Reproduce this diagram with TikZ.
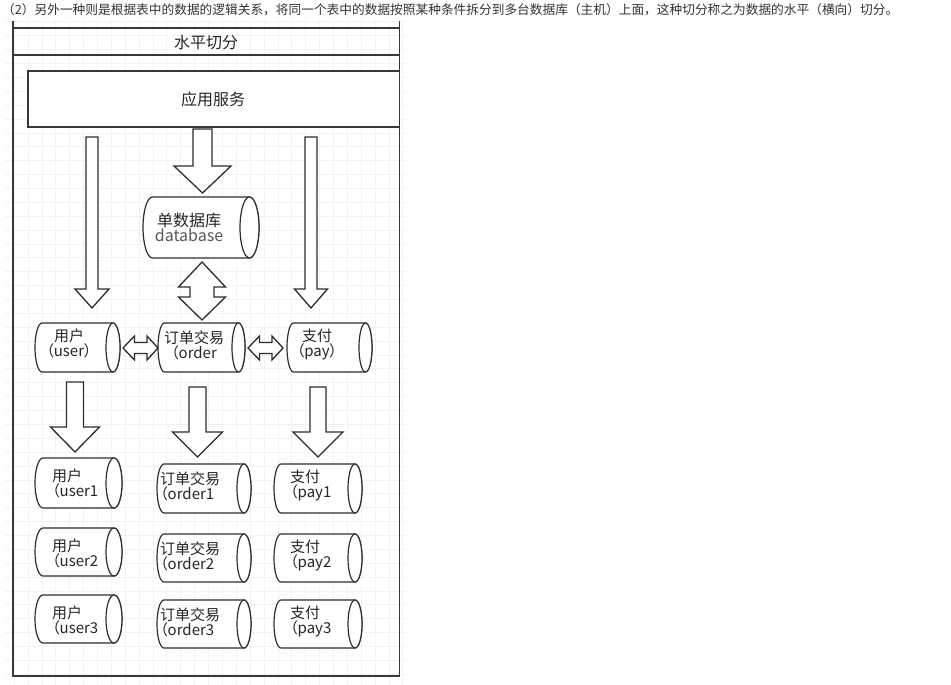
\documentclass[tikz,border=0pt]{standalone}
\usepackage{fontspec}
\setmainfont{Noto Sans CJK SC}
\newfontfamily\dfont[RawFeature=+palt]{Noto Sans CJK SC}
\newcommand\dbcyl[5]{% L T R B r
  \draw[cylline] ({#3-#5},{-#2}) -- ({#1+#5},{-#2})
    arc[start angle=90,end angle=270,x radius=#5,y radius={(#4-#2)/2}]
    -- ({#3-#5},{-#4})
    arc[start angle=-90,end angle=90,x radius=#5,y radius={(#4-#2)/2}] -- cycle;
  \draw[cylline] ({#3-#5},{-(#2+#4)/2}) ellipse[x radius=#5,y radius={(#4-#2)/2}];
}
\newcommand\dnarrow[6]{% cx top headbase tip shafthalf headhalf
  \draw[blockarr] ({#1-#5},{-#2}) -- ({#1+#5},{-#2}) -- ({#1+#5},{-#3}) -- ({#1+#6},{-#3})
    -- ({#1},{-#4}) -- ({#1-#6},{-#3}) -- ({#1-#5},{-#3}) -- cycle;
}
\newcommand\vdarrow[7]{% cx top hb1 hb2 bottom sh hh
  \draw[blockarr] ({#1},{-#2}) -- ({#1+#7},{-#3}) -- ({#1+#6},{-#3}) -- ({#1+#6},{-#4})
    -- ({#1+#7},{-#4}) -- ({#1},{-#5}) -- ({#1-#7},{-#4}) -- ({#1-#6},{-#4})
    -- ({#1-#6},{-#3}) -- ({#1-#7},{-#3}) -- cycle;
}
\newcommand\hdarrow[7]{% cy left hb1 hb2 right sh hh
  \draw[blockarr] ({#2},{-#1}) -- ({#3},{-#1+#7}) -- ({#3},{-#1+#6}) -- ({#4},{-#1+#6})
    -- ({#4},{-#1+#7}) -- ({#5},{-#1}) -- ({#4},{-#1-#7}) -- ({#4},{-#1-#6})
    -- ({#3},{-#1-#6}) -- ({#3},{-#1-#7}) -- cycle;
}
\begin{document}
\begin{tikzpicture}[x=1pt,y=1pt,
  gridline/.style={draw=black!5, line width=0.6pt},
  frameline/.style={draw=black!78, line width=1.4pt},
  blockarr/.style={draw=black!82, fill=white, line width=1.3pt, line join=miter},
  cylline/.style={draw=black!82, fill=white, line width=1.2pt},
  lbl/.style={font=\dfont\fontsize{15}{14}\selectfont, text=black!85, inner sep=0pt, align=center},
  lbll/.style={lbl, align=left, anchor=west},
  ttl/.style={font=\dfont\fontsize{16}{18}\selectfont, text=black!85, inner sep=0pt}]
\useasboundingbox (0,0) rectangle (951,-685);
\fill[white] (0,0) rectangle (951,-685);
% grid
\foreach \k in {0,...,28} {\draw[gridline] ({14.1+\k*13.88},-20) -- ({14.1+\k*13.88},-685);}
\foreach \k in {-9,...,38} {\draw[gridline] (5,{-146.7-\k*13.88}) -- (405,{-146.7-\k*13.88});}
% caption line
\node[anchor=west, inner sep=0pt, font=\fontsize{12.7}{14}\selectfont, text=black!80] (caption) at (2,-10)
  {（2）另外一种则是根据表中的数据的逻辑关系，将同一个表中的数据按照某种条件拆分到多台数据库（主机）上面，这种切分称之为数据的水平（横向）切分。};
% frame
\draw[frameline] (13,-21) -- (13,-676) -- (399.5,-676) -- (399.5,-21);
\draw[frameline] (13,-28) -- (399.5,-28);
\draw[frameline] (13,-55) -- (399.5,-55);
\node[ttl] (title) at (206,-42) {水平切分};
% application box
\draw[frameline, fill=white] (28,-71) rectangle (399.5,-127);
\node[ttl] (app) at (213,-99) {应用服务};
% arrows from app
\dnarrow{92}{137}{289}{308}{6}{17}
\dnarrow{311}{137}{289}{308}{6}{16.5}
\dnarrow{202.5}{129}{166}{193}{9.5}{28.5}
% single database
\dbcyl{143}{197}{259}{258}{9.5}
\node[lbl, font=\dfont\fontsize{16}{13}\selectfont] (db) at (189,-227) {单数据库\\\textcolor{black!65}{database}};
% db <-> order
\vdarrow{202}{262}{287}{297}{320}{12}{23.5}
% level 2 cylinders
\dbcyl{35}{323}{120}{372}{7}
\dbcyl{158}{323}{245}{372}{6.5}
\dbcyl{287}{323}{372}{372}{6.5}
\node[lbl] (user) at (69,-343) {用户\\（user）};
\node[lbl] (order) at (194,-345.5) {订单交易\\（order};
\node[lbl] (pay) at (317,-344.5) {支付\\（pay）};
\hdarrow{348}{123}{134.5}{147}{158}{5.5}{12}
\hdarrow{348}{248}{259.5}{272}{283}{5.5}{12}
% level 2 -> level 3 arrows
\dnarrow{75}{382}{427}{452}{8.5}{24.5}
\dnarrow{197.5}{387}{432}{457}{8.5}{25}
\dnarrow{318}{387}{432}{457}{8}{25}
% level 3 cylinders
\dbcyl{35}{458}{122}{508}{8}
\dbcyl{35}{528}{122}{576}{8}
\dbcyl{35}{595}{122}{643}{8}
\dbcyl{157}{464}{251}{513}{7}
\dbcyl{157}{534}{251}{582}{7}
\dbcyl{157}{600}{251}{648}{7}
\dbcyl{274}{464}{362}{513}{7}
\dbcyl{274}{534}{362}{582}{7}
\dbcyl{274}{600}{362}{648}{7}
\node[lbll] (user1) at (52,-483.5) {用户\\（user1};
\node[lbll] (user2) at (52,-553.5) {用户\\（user2};
\node[lbll] (user3) at (52,-620.5) {用户\\（user3};
\node[lbll] (order1) at (160,-486) {订单交易\\（order1};
\node[lbll] (order2) at (160,-556) {订单交易\\（order2};
\node[lbll] (order3) at (160,-622) {订单交易\\（order3};
\node[lbll] (pay1) at (290,-485.5) {支付\\（pay1};
\node[lbll] (pay2) at (290,-555.5) {支付\\（pay2};
\node[lbll] (pay3) at (290,-621.5) {支付\\（pay3};
\end{tikzpicture}
\end{document}
